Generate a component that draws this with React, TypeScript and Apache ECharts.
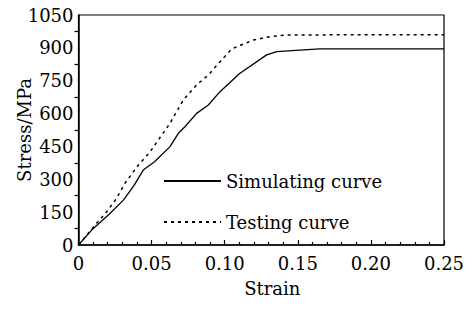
import React, { useEffect, useRef } from "react";
import * as echarts from "echarts";

const simStrain = [0, 0.009, 0.0204, 0.0307, 0.038, 0.0443, 0.052, 0.0626, 0.0683, 0.0728, 0.0808, 0.0888, 0.0968, 0.11, 0.1287, 0.1356, 0.1515, 0.165, 0.25];
const simStress = [0, 68, 137, 205, 272, 342, 380, 449, 510, 540, 601, 639, 700, 782, 868, 883, 890, 895, 895];
const testStrain = [0, 0.0124, 0.0193, 0.026, 0.0318, 0.041, 0.049, 0.057, 0.0626, 0.0717, 0.0808, 0.0888, 0.0968, 0.1048, 0.1196, 0.131, 0.1424, 0.25];
const testStress = [0, 99, 152, 213, 282, 365, 426, 502, 556, 662, 731, 776, 837, 895, 936, 951, 959, 960];
const seriesNames = ["Simulating curve", "Testing curve"];
const xTitle = "Strain";
const yTitle = "Stress/MPa";

const FONT = "DejaVu Serif";
const FS = 18;

export default function App() {
  const ref = useRef<HTMLDivElement>(null);
  useEffect(() => {
    if (!ref.current) return;
    const chart = echarts.init(ref.current, null, { renderer: "svg" });
    const sim = simStrain.map((x, i) => [x, simStress[i]]);
    const test = testStrain.map((x, i) => [x, testStress[i]]);
    chart.setOption({
      animation: false,
      textStyle: { fontFamily: FONT },
      grid: {
        left: 78.5,
        right: 29,
        top: 15,
        bottom: 64,
        outerBoundsMode: "none",
        containLabel: false,
        show: true,
        borderColor: "#000",
        borderWidth: 1.2,
      },
      legend: {
        orient: "vertical",
        left: 158,
        top: 167,
        itemWidth: 57,
        itemHeight: 14,
        itemGap: 23,
        itemStyle: { opacity: 0 },
        textStyle: { fontFamily: FONT, fontSize: FS, color: "#000" },
        data: seriesNames,
      },
      xAxis: {
        type: "value",
        min: 0,
        max: 0.25,
        interval: 0.05,
        name: xTitle,
        nameLocation: "middle",
        nameGap: 34,
        nameMoveOverlap: false,
        nameTextStyle: { fontFamily: FONT, fontSize: FS, color: "#000", padding: [0, 0, 0, 22] },
        axisLine: { show: true, lineStyle: { color: "#000", width: 1.5 } },
        axisTick: { show: true, inside: true, length: 5, lineStyle: { color: "#000", width: 1.2 } },
        minorTick: { show: true, splitNumber: 5, length: 3, lineStyle: { color: "#000", width: 1.2 } },
        splitLine: { show: false },
        axisLabel: {
          fontFamily: FONT,
          fontSize: FS,
          color: "#000",
          margin: 9,
          formatter: (v: number) => (v === 0 ? "0" : v.toFixed(2)),
        },
      },
      yAxis: {
        type: "value",
        min: 0,
        max: 1050,
        interval: 150,
        name: yTitle,
        nameLocation: "middle",
        nameGap: 45,
        nameMoveOverlap: false,
        nameTextStyle: { fontFamily: FONT, fontSize: FS, color: "#000" },
        axisLine: { show: true, lineStyle: { color: "#000", width: 1.5 } },
        axisTick: { show: false },
        minorTick: { show: true, splitNumber: 2, length: 4, lineStyle: { color: "#000", width: 1.2 } },
        splitLine: { show: false },
        axisLabel: {
          fontFamily: FONT,
          fontSize: FS,
          color: "#000",
          margin: 5,
          formatter: (v: number) => String(v),
        },
      },
      series: [
        {
          name: seriesNames[0],
          type: "line",
          data: sim,
          showSymbol: false,
          symbol: "none",
          lineStyle: { color: "#000", width: 1.3, type: "solid" },
          itemStyle: { color: "#000" },
        },
        {
          name: seriesNames[1],
          type: "line",
          data: test,
          showSymbol: false,
          symbol: "none",
          lineStyle: { color: "#000", width: 1.5, type: [3, 4] },
          itemStyle: { color: "#000" },
        },
      ],
    });
    return () => chart.dispose();
  }, []);
  return <div ref={ref} style={{ width: 473, height: 309, position: "absolute", left: 0, top: 0 }} />;
}
